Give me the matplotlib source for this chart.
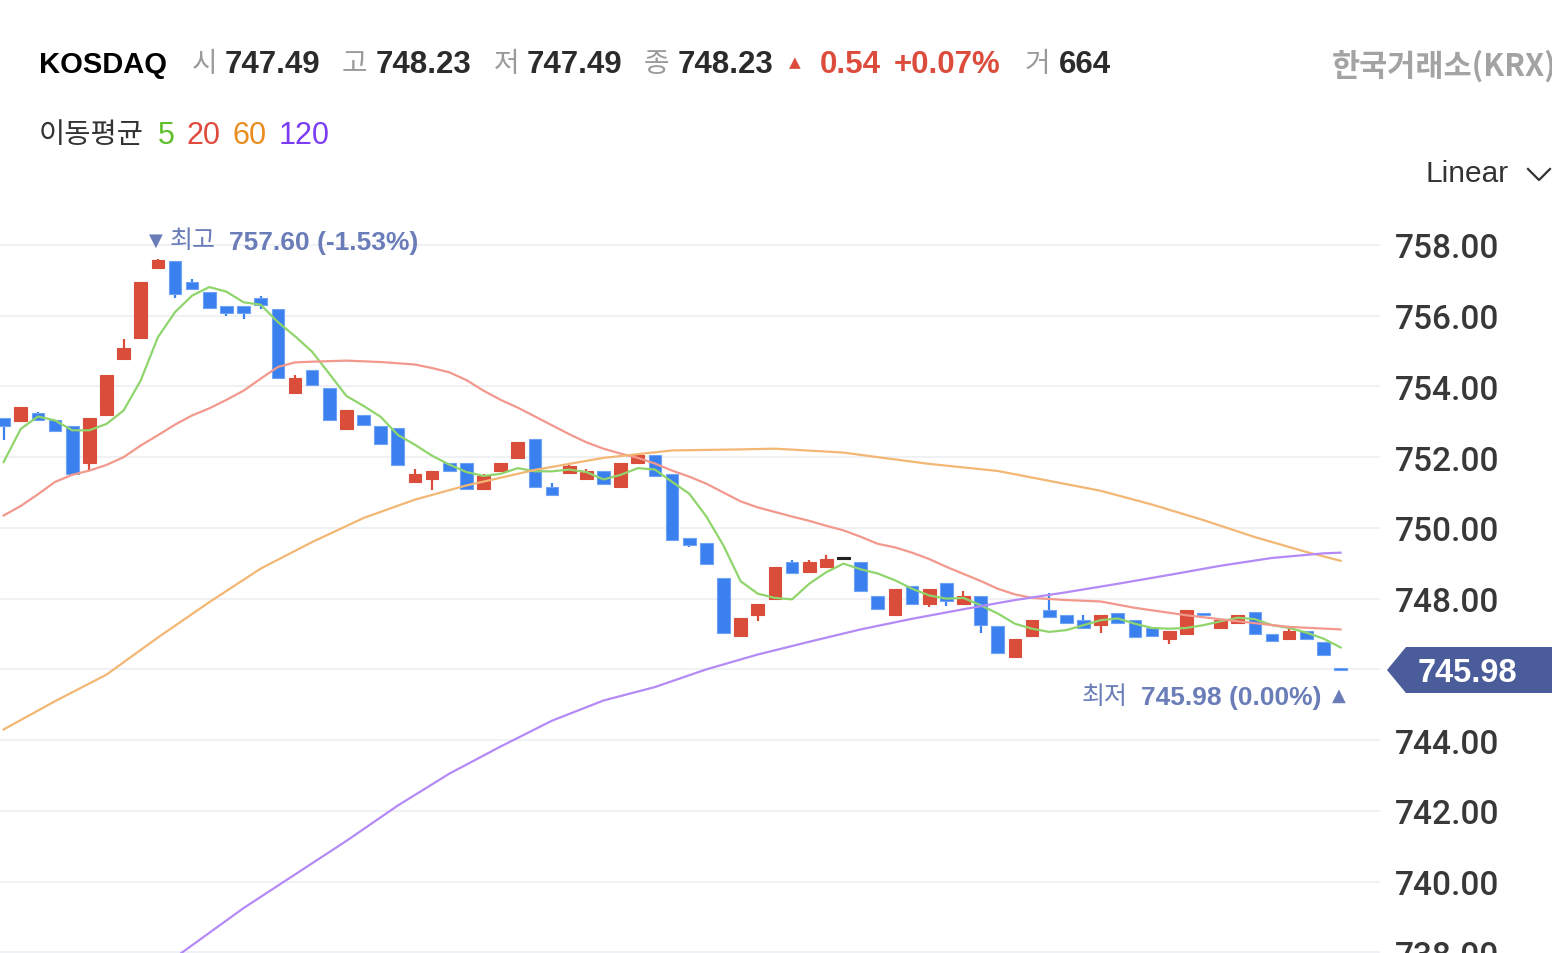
import matplotlib
matplotlib.use('Agg')
import matplotlib.pyplot as plt
from matplotlib.patches import Polygon
from matplotlib.lines import Line2D
import numpy as np

# 79 candles
opens = [753.11, 753.03, 753.26, 753.04, 752.88, 751.83, 753.19, 754.78, 755.38, 757.34,
         757.56, 756.96, 756.66, 756.27, 756.27, 756.49, 756.19, 753.81, 754.47, 753.95,
         752.81, 753.20, 752.88, 752.82, 751.31, 751.39, 751.83, 751.83, 751.09, 751.61,
         751.99, 752.52, 751.16, 751.54, 751.39, 751.61, 751.16, 751.84, 752.05, 751.53,
         749.72, 749.57, 748.58, 746.94, 747.53, 747.99, 749.04, 748.76, 748.89, 749.13,
         749.04, 748.07, 747.53, 748.35, 747.86, 748.44, 747.85, 748.07, 747.23, 746.35,
         746.94, 747.69, 747.53, 747.39, 747.25, 747.60, 747.39, 747.17, 746.87, 747.01,
         747.57, 747.17, 747.32, 747.62, 746.99, 746.87, 747.08, 746.78, 746.00]
closes = [752.89, 753.42, 753.04, 752.74, 751.53, 753.10, 754.33, 755.09, 756.95, 757.58,
          756.60, 756.75, 756.21, 756.07, 756.07, 756.29, 754.25, 754.24, 754.03, 753.05,
          753.34, 752.90, 752.37, 751.77, 751.53, 751.61, 751.62, 751.09, 751.47, 751.83,
          752.44, 751.17, 750.94, 751.75, 751.61, 751.24, 751.83, 752.05, 751.47, 749.67,
          749.51, 748.97, 747.03, 747.46, 747.84, 748.90, 748.73, 749.04, 749.11, 749.13,
          748.23, 747.70, 748.28, 747.84, 748.28, 747.94, 748.07, 747.25, 746.47, 746.87,
          747.39, 747.47, 747.32, 747.17, 747.53, 747.32, 746.92, 746.94, 747.08, 747.69,
          747.55, 747.39, 747.53, 747.01, 746.80, 747.08, 746.87, 746.42, 745.98]
highs = [753.11, 753.42, 753.29, 753.04, 752.88, 753.10, 754.33, 755.34, 756.95, 757.60,
         757.56, 757.04, 756.66, 756.27, 756.27, 756.57, 756.19, 754.33, 754.47, 753.95,
         753.34, 753.20, 752.88, 752.82, 751.67, 751.61, 751.83, 751.83, 751.52, 751.83,
         752.44, 752.52, 751.27, 751.79, 751.67, 751.61, 751.83, 752.05, 752.05, 751.53,
         749.72, 749.57, 748.58, 747.46, 747.84, 748.90, 749.09, 749.09, 749.24, 749.19,
         749.04, 748.07, 748.28, 748.35, 748.28, 748.44, 748.22, 748.07, 747.23, 746.87,
         747.39, 748.16, 747.53, 747.53, 747.53, 747.60, 747.39, 747.17, 747.08, 747.69,
         747.57, 747.39, 747.53, 747.62, 746.99, 747.20, 747.08, 746.78, 746.00]
lows = [752.49, 752.99, 753.01, 752.72, 751.51, 751.65, 753.17, 754.76, 755.36, 757.32,
        756.49, 756.73, 756.19, 756.00, 755.91, 756.19, 754.23, 753.79, 754.01, 753.03,
        752.79, 752.88, 752.35, 751.75, 751.29, 751.06, 751.57, 751.07, 751.06, 751.59,
        751.97, 751.15, 750.92, 751.52, 751.37, 751.22, 751.14, 751.82, 751.45, 749.65,
        749.46, 748.95, 747.01, 746.92, 747.38, 747.97, 748.69, 748.74, 748.87, 749.11,
        748.21, 747.68, 747.51, 747.82, 747.75, 747.79, 747.83, 747.04, 746.45, 746.33,
        746.92, 747.45, 747.30, 747.15, 747.04, 747.30, 746.89, 746.92, 746.73, 746.99,
        747.55, 747.15, 747.30, 746.99, 746.78, 746.85, 746.85, 746.38, 745.98]

ma5 = [751.86, 752.80, 753.15, 753.04, 752.76, 752.76, 752.94, 753.32, 754.17, 755.39,
       756.10, 756.57, 756.81, 756.68, 756.38, 756.31, 755.82, 755.42, 754.98, 754.36,
       753.73, 753.45, 753.14, 752.63, 752.35, 752.04, 751.79, 751.58, 751.47, 751.53,
       751.69, 751.60, 751.60, 751.65, 751.58, 751.37, 751.50, 751.69, 751.65, 751.30,
       750.97, 750.32, 749.50, 748.49, 748.14, 748.02, 747.98, 748.42, 748.75, 748.99,
       748.83, 748.71, 748.52, 748.28, 748.09, 748.00, 748.02, 747.81, 747.58, 747.29,
       747.15, 747.06, 747.11, 747.25, 747.39, 747.44, 747.29, 747.17, 747.15, 747.17,
       747.25, 747.36, 747.46, 747.42, 747.25, 747.17, 747.04, 746.87, 746.62]

ma20_idx = [0, 1, 2, 3, 4, 5, 6, 7, 8, 9, 10, 11, 12, 13, 14, 15, 16, 17, 18, 20, 22, 24,
            25, 26, 27, 28, 29, 30, 31, 32, 33, 34, 35, 36, 37, 38, 39, 40, 41, 42, 43, 44,
            45, 46, 47, 48, 49, 50, 51, 52, 53, 54, 55, 56, 57, 58, 59, 60, 62, 64, 66, 69,
            72, 75, 78]
ma20 = [750.35, 750.62, 750.95, 751.30, 751.50, 751.62, 751.78, 752.00, 752.33, 752.62,
        752.92, 753.18, 753.38, 753.62, 753.88, 754.22, 754.55, 754.68, 754.70, 754.73,
        754.69, 754.62, 754.52, 754.40, 754.18, 753.88, 753.62, 753.40, 753.15, 752.90,
        752.65, 752.42, 752.24, 752.10, 751.98, 751.82, 751.62, 751.45, 751.25, 751.00,
        750.75, 750.58, 750.45, 750.32, 750.20, 750.06, 749.93, 749.75, 749.55, 749.45,
        749.30, 749.12, 748.90, 748.70, 748.50, 748.28, 748.12, 748.02, 747.96, 747.92,
        747.74, 747.53, 747.36, 747.20, 747.13]

ma60_idx = [0, 3, 6, 9, 12, 15, 18, 21, 24, 27, 31, 35, 39, 43, 45, 49, 51, 54, 58, 61,
            64, 67, 70, 73, 76, 78]
ma60 = [744.30, 745.10, 745.85, 746.90, 747.90, 748.85, 749.60, 750.28, 750.80, 751.20,
        751.64, 751.98, 752.19, 752.22, 752.24, 752.13, 752.00, 751.81, 751.61, 751.33,
        751.05, 750.66, 750.22, 749.74, 749.32, 749.07]

ma120_idx = [10, 14, 17, 20, 23, 26, 29, 32, 35, 38, 41, 44, 47, 50, 53, 56, 59, 62, 65,
             68, 71, 74, 77, 78]
ma120 = [737.85, 739.25, 740.20, 741.15, 742.15, 743.05, 743.82, 744.55, 745.12, 745.50,
         746.00, 746.42, 746.78, 747.13, 747.43, 747.70, 747.96, 748.18, 748.42, 748.67,
         748.93, 749.15, 749.28, 749.30]

y_ticks = [738, 740, 742, 744, 746, 748, 750, 752, 754, 756, 758]
last_price = 745.98
high_label = ('최고', '757.60 (-1.53%)')
low_label = ('최저', '745.98 (0.00%)')

UP = '#db4d3b'
DOWN = '#3b80ef'
DOJI = '#222222'
KR = ['Noto Sans CJK KR', 'DejaVu Sans']
NUM = ['Liberation Sans', 'Noto Sans CJK KR']
AXF = ['Roboto', 'DejaVu Sans']

W, H = 1552, 954
fig = plt.figure(figsize=(W / 100, H / 100), dpi=100, facecolor='white')
ax = fig.add_axes([0, 0, 1380 / W, (H - 200) / H])
ax.set_xlim(-0.21, 80.3)
ax.set_ylim(737.98, 759.30)
for s in ax.spines.values():
    s.set_visible(False)
ax.set_xticks([])
ax.yaxis.tick_right()
ax.set_yticks(y_ticks, ['' if t == 746 else f'{t:.2f}' for t in y_ticks])
ax.tick_params(axis='y', length=0, pad=11, labelsize=24, labelcolor='#383838')
for lab in ax.get_yticklabels():
    lab.set_family(AXF)
    lab.set_weight('medium')
for t in y_ticks:
    ax.axhline(t, color='#f0f1f5', lw=1.4, zorder=0)

o = np.array(opens)
c = np.array(closes)
x = np.arange(len(o))
cols = [UP if cc > oo else DOWN if cc < oo else DOJI for oo, cc in zip(o, c)]
edge = [UP if cc > oo else '#6fa3f5' if cc < oo else DOJI for oo, cc in zip(o, c)]
ax.vlines(x, lows, highs, colors=cols, lw=1.6, zorder=2)
ax.bar(x, np.maximum(np.abs(c - o), 0.05), bottom=np.minimum(o, c), width=0.74,
       color=cols, edgecolor=edge, linewidth=0.8, zorder=3)

ax.plot(x, ma5, color='#8fd56c', lw=1.6, zorder=4)
ax.plot(ma20_idx, ma20, color='#f2988d', lw=1.6, zorder=4)
ax.plot(ma60_idx, ma60, color='#f3b774', lw=1.6, zorder=4)
ax.plot(ma120_idx, ma120, color='#b48af7', lw=1.6, zorder=4)


def ftext(px, py, s, **kw):
    kw.setdefault('va', 'center')
    kw.setdefault('ha', 'left')
    return fig.text(px / W, 1 - py / H, s, **kw)


# header line
GRAY = '#9a9a9a'
DARK = '#2b2b2b'
RED = '#dc4c3c'
HY = 65
ftext(39, HY, 'KOSDAQ', fontsize=21, weight='bold', color='black', family=NUM)
for px, s in [(192, '시'), (342, '고'), (494, '저'), (644, '종'), (1025, '거')]:
    ftext(px, HY - 1, s, fontsize=20, color=GRAY, family=KR)
for px, s in [(225, '747.49'), (376, '748.23'), (527, '747.49'), (678, '748.23'), (1059, '664')]:
    ftext(px, HY, s, fontsize=22.5, weight='bold', color=DARK, family=NUM)
ftext(789, HY - 2, '▲', fontsize=11, color=RED, family=['DejaVu Sans'])
ftext(820, HY, '0.54', fontsize=22.5, weight='bold', color=RED, family=NUM)
ftext(894, HY, '+0.07%', fontsize=22.5, weight='bold', color=RED, family=NUM)
# runs off the right edge, as in the source screenshot
ftext(1332, 66, '한국거래소(KRX)', fontsize=22, weight='bold', color='#a3a3a3', family=KR)

# moving average legend
ftext(39, 135, '이동평균', fontsize=20.5, color='#333333', family=KR)
for px, s, col in [(158, '5', '#5fbf2c'), (186, '20', '#e04a3c'),
                   (232, '60', '#ea8c1e'), (279, '120', '#7b3cf4')]:
    ftext(px, 136, s, fontsize=22, color=col, family=NUM)

ftext(1426, 174, 'Linear', fontsize=21.5, color='#333333', family=NUM)
fig.add_artist(Line2D([1528 / W, 1539 / W, 1550 / W],
                      [1 - 170 / H, 1 - 181 / H, 1 - 170 / H],
                      color='#333333', lw=1.6))

# high / low markers
SLATE = '#6b7db8'
ftext(149, 241, '▼', fontsize=13, color=SLATE, family=['DejaVu Sans'])
ftext(170, 241, high_label[0], fontsize=18, color=SLATE, family=KR)
ftext(229, 243, high_label[1], fontsize=19, weight='bold', color=SLATE, family=NUM)
ftext(1082, 697, low_label[0], fontsize=18, color=SLATE, family=KR)
ftext(1141, 698, low_label[1], fontsize=19, weight='bold', color=SLATE, family=NUM)
ftext(1332, 696, '▲', fontsize=13, color=SLATE, family=['DejaVu Sans'])

# last price tag
ty = 1 - 671 / H
tag = Polygon([(1387 / W, ty), (1406 / W, 1 - 648 / H), (1552 / W, 1 - 648 / H),
               (1552 / W, 1 - 694 / H), (1406 / W, 1 - 694 / H)],
              closed=True, transform=fig.transFigure, facecolor='#4b5c9b',
              edgecolor='none', zorder=5)
fig.add_artist(tag)
ftext(1418, 673, f'{last_price:.2f}', fontsize=23.5, weight='bold', color='white',
      family=NUM, zorder=6)

fig.savefig('out.png', dpi=100, facecolor='white')
